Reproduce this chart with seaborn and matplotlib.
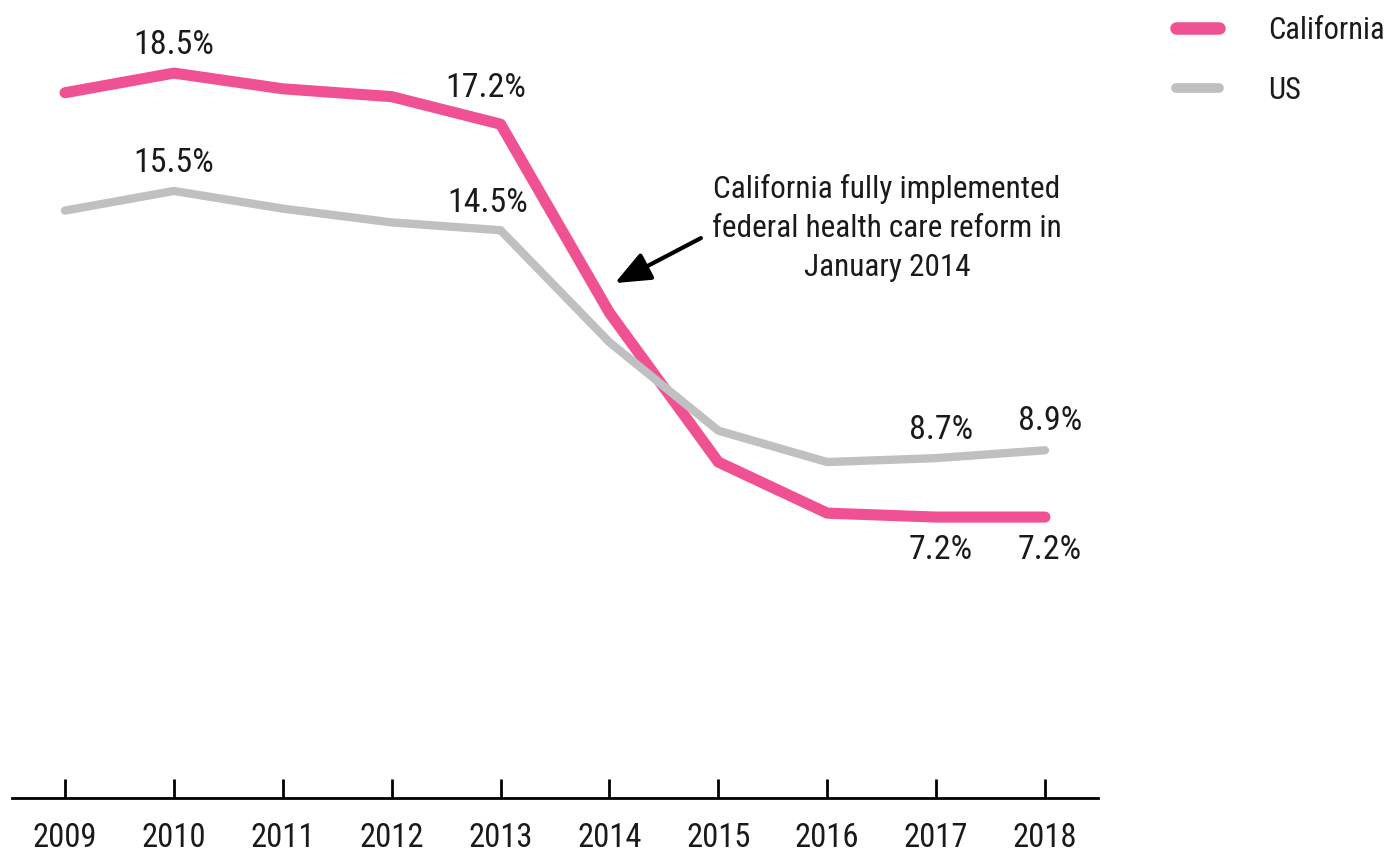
import pandas as pd
import seaborn as sns
import matplotlib.pyplot as plt
from matplotlib import font_manager

# Uninsured rate, percent
years = [2009, 2010, 2011, 2012, 2013, 2014, 2015, 2016, 2017, 2018]
california = [18.0, 18.5, 18.1, 17.9, 17.2, 12.4, 8.6, 7.3, 7.2, 7.2]
us = [15.0, 15.5, 15.05, 14.7, 14.5, 11.65, 9.4, 8.6, 8.7, 8.9]

# labelled points: (series, year, value text, x offset px, y offset px)
point_labels = [
    ("California", 2010, "18.5%", 0, 28),
    ("California", 2013, "17.2%", -15, 36),
    ("US", 2010, "15.5%", 0, 28),
    ("US", 2013, "14.5%", -13, 27),
    ("US", 2017, "8.7%", 5, 28),
    ("US", 2018, "8.9%", 5, 29),
    ("California", 2017, "7.2%", 5, -33),
    ("California", 2018, "7.2%", 5, -33),
]

df = pd.DataFrame({"year": years * 2,
                   "rate": california + us,
                   "area": ["California"] * len(years) + ["US"] * len(years)})

sns.set_theme(style="white")
names = {f.name for f in font_manager.fontManager.ttflist}
fam = [f for f in ["Roboto Condensed", "Liberation Sans Narrow", "DejaVu Sans"] if f in names]
plt.rcParams["font.family"] = fam

colors = {"California": "#EF5192", "US": "#BFC0C2"}
txt_color = "#1a1a1a"

fig = plt.figure(figsize=(13.87, 8.52), dpi=100)
ax = fig.add_axes([12 / 1387, 1 - 798 / 852, (1098 - 12) / 1387, 798 / 852])

sns.lineplot(data=df, x="year", y="rate", hue="area", palette=colors,
             ax=ax, legend=False)
for line, lw in zip(ax.lines, [8, 6]):
    line.set_linewidth(lw)
    line.set_solid_capstyle("round")
    line.set_solid_joinstyle("round")

ax.set_xlim(2008.513, 2018.487)
ax.set_ylim(0.05, 20.36)
ax.set_xticks(years)
ax.set_xticklabels([str(y) for y in years])
ax.set_yticks([])
ax.set_xlabel("")
ax.set_ylabel("")
for s in ["top", "right", "left"]:
    ax.spines[s].set_visible(False)
ax.spines["bottom"].set_linewidth(2)
ax.spines["bottom"].set_color("black")
ax.tick_params(axis="x", direction="in", length=14, width=2, color="black",
               labelsize=23.5, pad=17, bottom=True, labelcolor=txt_color)

series = {"California": california, "US": us}
for name, yr, txt, dx, dy in point_labels:
    val = series[name][years.index(yr)]
    ax.annotate(txt, (yr, val), xytext=(dx, dy), textcoords="offset pixels",
                ha="center", va="center", fontsize=24.5, color=txt_color)

ax.text(2016.55, (800 - 228) / 39.3,
        "California fully implemented\nfederal health care reform in\nJanuary 2014",
        ha="center", va="center", fontsize=22.5, linespacing=1.45, color=txt_color)
ax.annotate("", xy=(2014.05, (800 - 283) / 39.3), xytext=(2014.84, (800 - 238) / 39.3),
            arrowprops=dict(arrowstyle="-|>,head_length=1.8,head_width=0.75",
                            color="black", lw=3, shrinkA=0, shrinkB=0))

handles = [plt.Line2D([], [], color=colors[k], lw=w, solid_capstyle="round")
           for k, w in [("California", 9), ("US", 7)]]
fig.legend(handles, ["California", "US"], loc="upper left",
           bbox_to_anchor=(1176 / 1387, 1 - 16 / 852), frameon=False,
           borderpad=0, borderaxespad=0, labelcolor=txt_color,
           fontsize=22, handlelength=1.4, handletextpad=1.6, labelspacing=1.0)

fig.savefig("out.png", dpi=100)
